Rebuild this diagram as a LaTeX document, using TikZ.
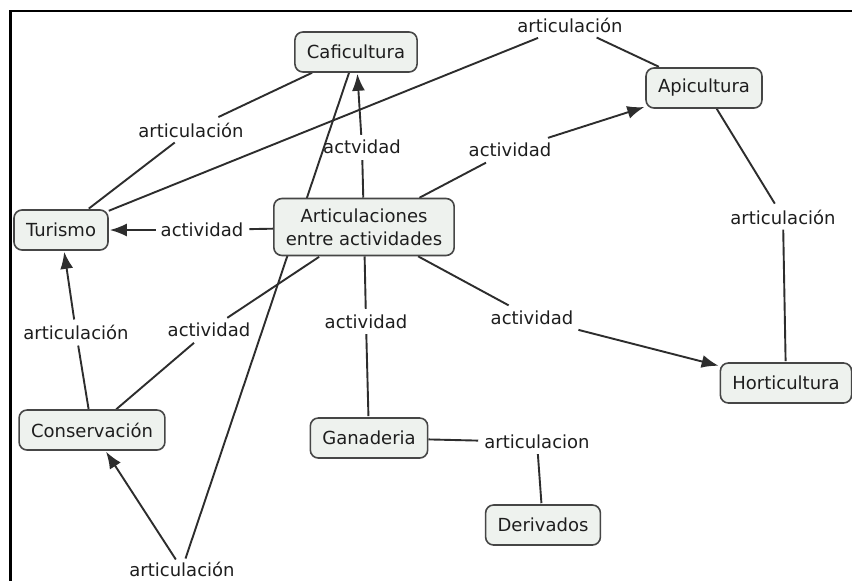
\documentclass[tikz,border=0pt]{standalone}
\usepackage{fontspec}
\setmainfont{DejaVu Sans}
\usetikzlibrary{arrows.meta,backgrounds}
\definecolor{conceptfill}{RGB}{238,242,238}
\definecolor{conceptline}{RGB}{70,70,70}
\definecolor{linkline}{RGB}{45,45,45}
\definecolor{inktext}{RGB}{30,30,30}

\begin{document}
\begin{tikzpicture}[
                            x=1pt,
                            y=-1pt,
                            >={Latex[length=17pt,width=13pt]},
                            font=\fontsize{18}{23}\selectfont,
                            text=inktext
                        ]
                        \tikzstyle{concept}=[draw=conceptline,fill=conceptfill,rounded corners=8pt,line width=1.6pt,inner xsep=12pt,inner ysep=10pt,minimum height=40pt,align=center]
                        \tikzstyle{linkword}=[inner sep=5pt]
                        \tikzstyle{every edge}=[draw=linkline,line width=1.9pt,shorten >=1pt]

                        \useasboundingbox (0,0) rectangle (852,581);

                        \node[concept] (cafi)  at (356,52)  {Caficultura};
                        \node[concept] (api)   at (704,88)  {Apicultura};
                        \node[concept] (tur)   at (61,230)  {Turismo};
                        \node[concept] (art)   at (364,227) {Articulaciones\\entre actividades};
                        \node[concept] (hort)  at (786,383) {Horticultura};
                        \node[concept] (cons)  at (92,430)  {Conservación};
                        \node[concept] (gan)   at (369,438) {Ganaderia};
                        \node[concept] (deriv) at (543,525) {Derivados};

                        \node[linkword] (lTurApi)  at (570,25)  {articulación};
                        \node[linkword] (lCafTur)  at (191,130) {articulación};
                        \node[linkword] (lArtCaf)  at (362,147) {actvidad};
                        \node[linkword] (lArtApi)  at (510,150) {actividad};
                        \node[linkword] (lApiHort) at (783,217) {articulación};
                        \node[linkword] (lArtTur)  at (202,230) {actividad};
                        \node[linkword] (lConsTur) at (76,332)  {articulación};
                        \node[linkword] (lConsArt) at (209,330) {actividad};
                        \node[linkword] (lArtGan)  at (366,322) {actividad};
                        \node[linkword] (lArtHort) at (532,318) {actividad};
                        \node[linkword] (lGanDer)  at (537,442) {articulacion};
                        \node[linkword,inner ysep=2pt] (lCafCons) at (182,569) {articulación};

                        \begin{pgfonlayer}{background}
                        \fill[white] (0,0) rectangle (852,581);
                        \draw[line width=2.5pt] (10.5,581) -- (10.5,11) -- (852,11);
                        \path
                        (tur)      edge      (lTurApi)
                        (lTurApi)  edge      (api)
                        (cafi)     edge      (lCafTur)
                        (lCafTur)  edge      (tur)
                        (art)      edge      (lArtCaf)
                        (lArtCaf)  edge [->] (cafi)
                        (art)      edge      (lArtApi)
                        (lArtApi)  edge [->] (api)
                        (api)      edge      (lApiHort)
                        (lApiHort) edge      (hort)
                        (art)      edge      (lArtTur)
                        (lArtTur)  edge [->] (tur)
                        (cons)     edge      (lConsTur)
                        (lConsTur) edge [->] (tur)
                        (cons)     edge      (lConsArt)
                        (lConsArt) edge      (art)
                        (art)      edge      (lArtGan)
                        (lArtGan)  edge      (gan)
                        (art)      edge      (lArtHort)
                        (lArtHort) edge [->] (hort)
                        (gan)      edge      (lGanDer)
                        (lGanDer)  edge      (deriv)
                        (cafi)     edge      (lCafCons)
                        (lCafCons) edge [->] (cons)
                        ;
                        \end{pgfonlayer}
                    \end{tikzpicture}
\end{document}
